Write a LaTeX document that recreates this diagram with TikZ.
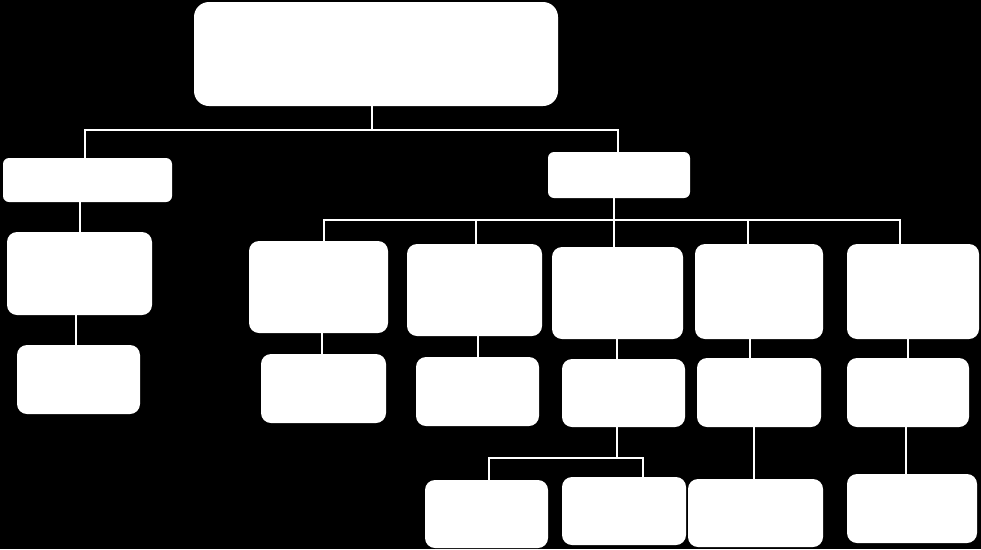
\documentclass[tikz,border=0pt]{standalone}
\begin{document}
\begin{tikzpicture}[x=1pt,y=-1pt,
  box/.style={fill=white,rounded corners=10pt,inner sep=0pt},
  link/.style={draw=white,line width=2pt}]
\fill[black](0,0) rectangle (981,549);
\useasboundingbox(0,0) rectangle (981,549);
% boxes
\node[box,rounded corners=15pt,minimum width=364,minimum height=104] (top) at (376,54) {};
\node[box,rounded corners=6pt,minimum width=169,minimum height=44] (l1) at (87.5,180) {};
\node[box,rounded corners=6pt,minimum width=142,minimum height=46] (r1) at (619,175) {};
\node[box,minimum width=145,minimum height=83] (l2) at (79.5,273.5) {};
\node[box,minimum width=123,minimum height=69] (l3) at (78.5,379.5) {};
\foreach \n/\x/\y/\w/\h in {a1/318.5/287/139/92,a2/474.5/290/135/92,a3/617.5/293/131/92,
  a4/759/291.5/128/95,a5/913/291.5/132/95,
  b1/323.5/388.5/125/69,b2/477.5/391.5/123/69,b3/623.5/393/123/68,b4/759/392.5/124/69,b5/908/392.5/122/69,
  c1/486.5/514/123/68,c2/624/511/124/68,c3/755.5/513/135/68,c5/912/508.5/130/69}
  \node[box,minimum width=\w,minimum height=\h] (\n) at (\x,\y) {};
% top level
\draw[link]([xshift=-4pt]top.south) -- ++(0,24) coordinate (topbus);
\draw[link]([xshift=-2.5pt]l1.north) |- (topbus);
\draw[link]([xshift=-1pt]r1.north) |- (topbus);
% left branch
\draw[link]([xshift=-7.5pt]l1.south) -- ([xshift=-7.5pt]l1.south |- l2.north);
\draw[link]([xshift=-2.5pt]l3.north) -- ([xshift=-2.5pt]l3.north |- l2.south);
% right branch
\draw[link]([xshift=-5pt]r1.south) -- ++(0,22) coordinate (rbus);
\foreach \n/\dx in {a1/5.5,a2/1.5,a3/-3.5,a4/-11,a5/-13}
  \draw[link]([xshift=\dx pt]\n.north) |- (rbus);
\foreach \a/\b/\dx in {a1/b1/-1.5,a2/b2/0.5,a3/b3/-6.5,a4/b4/-9,a5/b5/0}
  \draw[link]([xshift=\dx pt]\b.north) -- ([xshift=\dx pt]\b.north |- \a.south);
% third level
\draw[link]([xshift=-6.5pt]b3.south) -- ++(0,31) coordinate (cbus);
\draw[link]([xshift=2.5pt]c1.north) |- (cbus);
\draw[link]([xshift=19pt]c2.north) |- (cbus);
\draw[link]([xshift=-1.5pt]c3.north) -- ([xshift=-1.5pt]c3.north |- b4.south);
\draw[link]([xshift=-6pt]c5.north) -- ([xshift=-6pt]c5.north |- b5.south);
\end{tikzpicture}
\end{document}
